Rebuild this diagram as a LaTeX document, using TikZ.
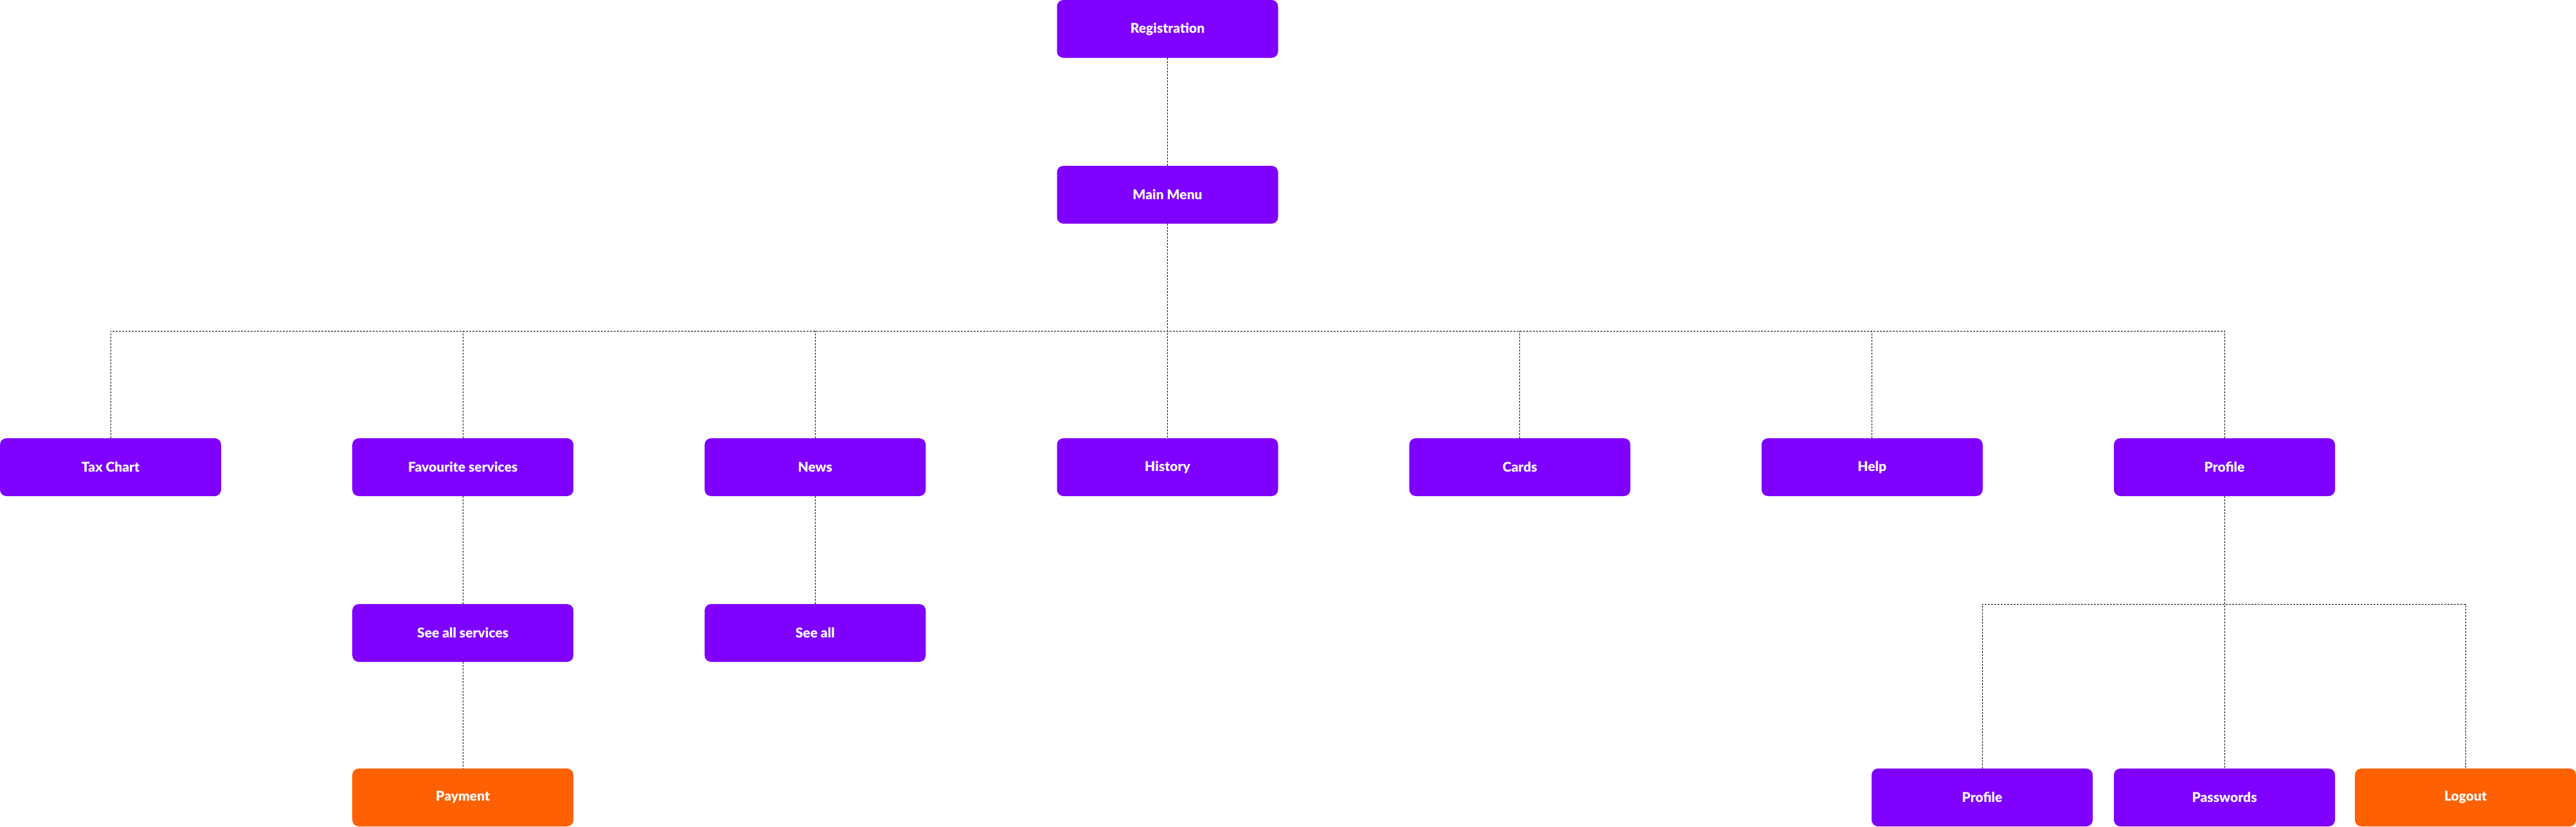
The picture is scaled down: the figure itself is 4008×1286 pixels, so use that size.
\documentclass[tikz,border=0pt]{standalone}
\usepackage{fontspec}
\setmainfont{Lato}[BoldFont={Lato Black}]
\definecolor{purp}{RGB}{128,0,255}
\definecolor{orng}{RGB}{255,96,0}
\tikzset{
  box/.style={rectangle, rounded corners=10pt, minimum width=344pt, minimum height=90pt, inner sep=0pt, fill=purp, draw=none, text=white, font=\fontsize{21pt}{25pt}\selectfont\bfseries},
  obox/.style={box, fill=orng},
  conn/.style={draw=black, line width=1pt, dash pattern=on 3pt off 2pt}
}
\begin{document}
\begin{tikzpicture}[x=1pt,y=1pt]
\useasboundingbox (0,0) rectangle (4008,-1286);
\node[box] (reg) at (1816.5,-45) {Registration};
\node[box] (main) at (1816.5,-303) {Main Menu};
\node[box] (tax) at (172,-727) {Tax Chart};
\node[box] (fav) at (720.2,-727) {Favourite services};
\node[box] (news) at (1268.3,-727) {News};
\node[box] (hist) at (1816.5,-727) {History};
\node[box] (cards) at (2364.7,-727) {Cards};
\node[box] (help) at (2912.8,-727) {Help};
\node[box] (prof) at (3461,-727) {Profile};
\node[box] (seeserv) at (720.2,-985) {See all services};
\node[box] (seeall) at (1268.3,-985) {See all};
\node[obox] (pay) at (720.2,-1241) {Payment};
\node[box] (prof2) at (3084,-1241) {Profile};
\node[box] (pass) at (3461,-1241) {Passwords};
\node[obox] (logout) at (3836,-1241) {Logout};
\coordinate (b1) at (1816.5,-515);
\coordinate (b2) at (3461,-940);
\draw[conn] (reg.south) -- (main.north);
\draw[conn] (main.south) -- (hist.north);
\draw[conn] (tax.north) -- (tax.north |- b1) -- (prof.north |- b1) -- (prof.north);
\foreach \n in {fav,news,cards,help} \draw[conn] (\n.north) -- (\n.north |- b1);
\draw[conn] (fav.south) -- (seeserv.north);
\draw[conn] (seeserv.south) -- (pay.north);
\draw[conn] (news.south) -- (seeall.north);
\draw[conn] (prof.south) -- (pass.north);
\draw[conn] (prof2.north) -- (prof2.north |- b2) -- (logout.north |- b2) -- (logout.north);
\end{tikzpicture}
\end{document}
